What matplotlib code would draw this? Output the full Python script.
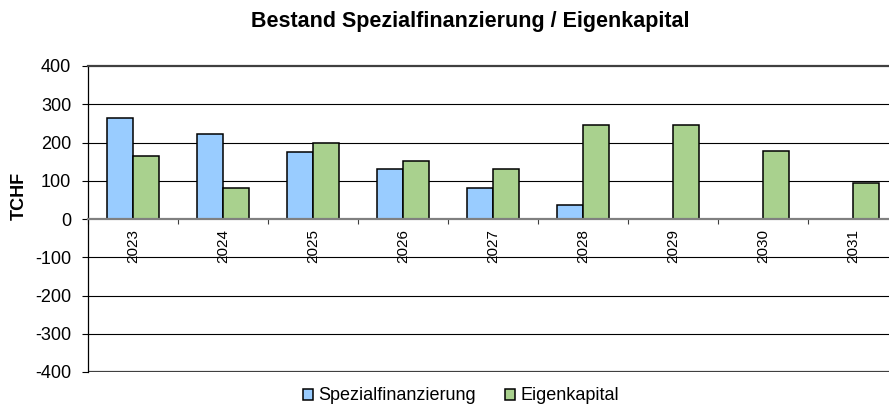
import matplotlib
matplotlib.use("Agg")
import matplotlib.pyplot as plt
import numpy as np

plt.rcParams['font.family'] = ['Liberation Sans', 'DejaVu Sans']

years = ["2023", "2024", "2025", "2026", "2027", "2028", "2029", "2030", "2031"]
spezialfinanzierung = [265, 223, 176, 130, 82, 36, 0, 0, 0]
eigenkapital = [164, 82, 198, 152, 132, 245, 245, 178, 93]
y_ticks = [-400, -300, -200, -100, 0, 100, 200, 300, 400]

title = "Bestand Spezialfinanzierung / Eigenkapital"
ylabel = "TCHF"
series_names = ["Spezialfinanzierung", "Eigenkapital"]

col_blue = "#99CCFF"
col_green = "#A9D18E"

W, H = 889, 404
fig = plt.figure(figsize=(W / 100, H / 100), dpi=100)
ax = fig.add_axes([88 / W, 1 - 372 / H, 810 / W, 306 / H])

x = np.arange(len(years))
bw = 0.289
ax.bar(x - bw / 2, spezialfinanzierung, width=bw, color=col_blue,
       edgecolor="black", linewidth=1.1, label=series_names[0], zorder=3)
ax.bar(x + bw / 2, eigenkapital, width=bw, color=col_green,
       edgecolor="black", linewidth=1.1, label=series_names[1], zorder=3)

ax.set_xlim(-0.5, len(years) - 0.5)
ax.set_ylim(-400, 400)
ax.set_yticks(y_ticks)
ax.set_yticklabels([str(v) for v in y_ticks], fontsize=13)
ax.tick_params(axis='y', direction='out', length=4.5, width=0.8, pad=7.5)

# gridlines
for v in y_ticks:
    if v not in (-400, 0, 400):
        ax.axhline(v, color="black", linewidth=0.8, zorder=1)
ax.axhline(-400, color="#404040", linewidth=1.6, zorder=2)

# x axis at zero
ax.spines['bottom'].set_position(('data', 0))
ax.spines['bottom'].set_color("#808080")
ax.spines['bottom'].set_linewidth(1.6)
ax.spines['bottom'].set_zorder(4)
ax.spines['top'].set_color("#404040")
ax.spines['top'].set_linewidth(1.6)
ax.spines['right'].set_visible(False)
ax.spines['left'].set_color("black")
ax.spines['left'].set_linewidth(0.9)

ax.set_xticks(x)
ax.set_xticklabels(years, rotation=90, fontsize=11, va='top', ha='center')
ax.tick_params(axis='x', which='major', length=0, pad=7)
ax.set_xticks(np.arange(-0.5, len(years) + 0.5, 1), minor=True)
ax.tick_params(axis='x', which='minor', direction='out', length=3.5,
               width=0.8, color="#404040")

fig.text(470 / W, 1 - 22 / H, title, fontsize=15.5, fontweight='bold',
         ha='center', va='center')
fig.text(19 / W, 1 - 196 / H, ylabel, fontsize=13, fontweight='bold',
         rotation=90, ha='center', va='center')

leg = fig.legend(loc='center', bbox_to_anchor=(461 / W, 1 - 396 / H),
                 ncol=2, frameon=False, fontsize=13, handlelength=0.55,
                 handleheight=0.55, handletextpad=0.3, columnspacing=1.6,
                 borderpad=0)

fig.savefig("out.png", dpi=100)
